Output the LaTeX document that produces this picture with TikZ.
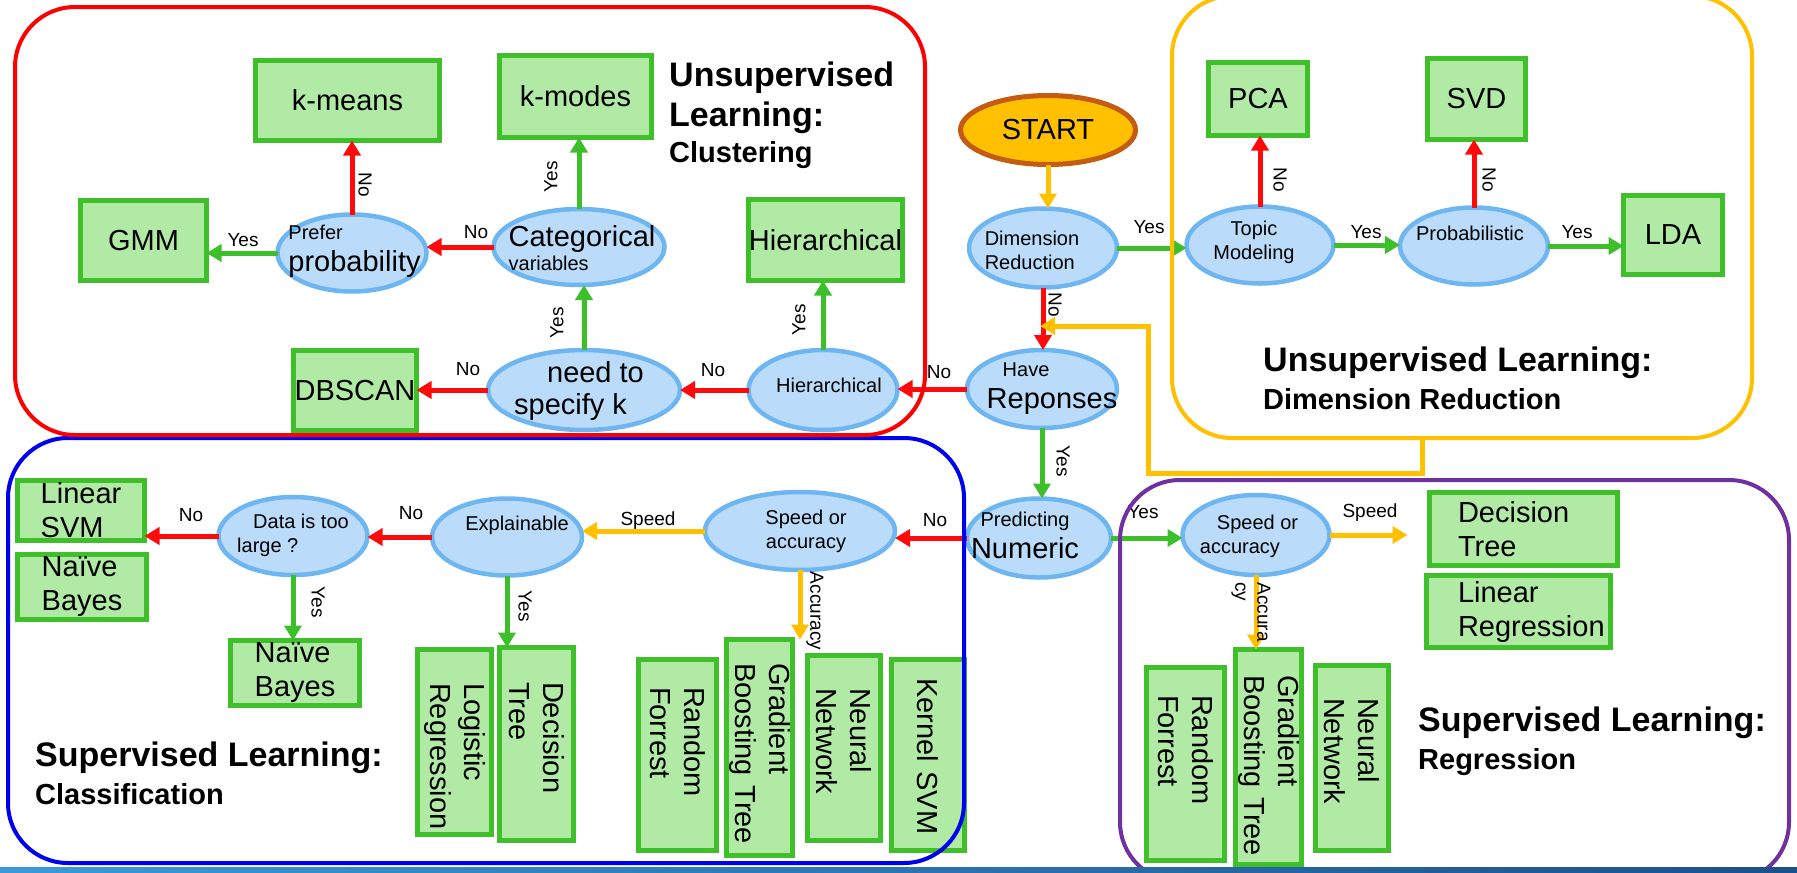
\documentclass[tikz,border=0pt]{standalone}
\usepackage{fontspec}
\setmainfont{Liberation Sans}
\usetikzlibrary{shapes.geometric,arrows.meta}

\definecolor{boxfill}{HTML}{B0EAA4}
\definecolor{boxline}{HTML}{3FBF2A}
\definecolor{ellfill}{HTML}{BADCFA}
\definecolor{ellline}{HTML}{6DB6F2}
\definecolor{arrred}{HTML}{FF0A0A}
\definecolor{arrgreen}{HTML}{3DBE2B}
\definecolor{arrorange}{HTML}{FFC000}
\definecolor{frred}{HTML}{FF0000}
\definecolor{fryellow}{HTML}{FFC000}
\definecolor{frblue}{HTML}{0000F0}
\definecolor{frpurple}{HTML}{7030A0}
\definecolor{startfill}{HTML}{FFC000}
\definecolor{startline}{HTML}{C55A11}
\definecolor{bandleft}{HTML}{3A9AD8}
\definecolor{bandright}{HTML}{1D4F8A}

\newcommand\fsbox{\fontsize{29pt}{34pt}\selectfont}
\newcommand\fsbig{\fontsize{29pt}{32pt}\selectfont}
\newcommand\fsell{\fontsize{20pt}{24pt}\selectfont}
\newcommand\fslab{\fontsize{19pt}{22pt}\selectfont}
\newcommand\fstitle{\bfseries\fontsize{34pt}{40pt}\selectfont}
\newcommand\fssub{\bfseries\fontsize{29pt}{34pt}\selectfont}

\begin{document}
\begin{tikzpicture}[x=1pt,y=-1pt,
  gbox/.style={rectangle, draw=boxline, fill=boxfill, line width=5pt,
    inner sep=0pt, outer sep=0pt, font=\fsbox, align=center},
  rbox/.style={gbox, rotate=-90, align=left},
  ell/.style={ellipse, draw=ellline, fill=ellfill, line width=4.5pt,
    inner sep=0pt, outer sep=0pt},
  etxt/.style={inner sep=0pt, font=\fsell, align=center},
  lab/.style={inner sep=0pt, font=\fslab},
  tip/.style={-{Triangle[length=15pt,width=17pt]}},
  rarr/.style={draw=arrred, line width=5pt, tip},
  garr/.style={draw=arrgreen, line width=5pt, tip},
  oarr/.style={draw=arrorange, line width=5pt, tip},
  frame/.style={rectangle, rounded corners=60pt, line width=4pt,
    inner sep=0pt, outer sep=0pt},
  title/.style={anchor=base west, inner sep=0pt, font=\fstitle},
  subtitle/.style={anchor=base west, inner sep=0pt, font=\fssub}
]
\useasboundingbox (0,0) rectangle (1797,873);
\clip (0,0) rectangle (1797,873);

% ---------- clustering ----------
\node[gbox, minimum width=184pt, minimum height=80pt] (kmeans) at (347.5,100.5) {k-means};
\node[gbox, minimum width=152pt, minimum height=82pt] (kmodes) at (575.5,96.5) {k-modes};
\node[gbox, minimum width=126pt, minimum height=80pt] (gmm) at (143.5,240.5) {GMM};
\node[gbox, minimum width=152pt, minimum height=81pt] (hierbox) at (825.5,240) {Hierarchical};
\node[gbox, minimum width=123pt, minimum height=80pt] (dbscan) at (355,390.5) {DBSCAN};

\node[ell, minimum width=149pt, minimum height=77pt] (prob) at (352,253) {};
\node[etxt, align=left, font=\fsbig] (probt) at (354.5,251) {{\fsell Prefer}\\probability};
\node[ell, minimum width=171pt, minimum height=76pt] (cat) at (579,247) {};
\node[etxt, align=left] (catt) at (582,248) {{\fsbig Categorical}\\variables};
\node[ell, minimum width=192pt, minimum height=80pt] (need) at (584,390) {};
\node[etxt, align=left, font=\fsbig] (needt) at (579,391) {\hspace*{33pt}need to\\specify k};
\node[ell, minimum width=149pt, minimum height=80pt] (hier) at (823,390) {};
\node[etxt] (hiert) at (829,385) {Hierarchical};

% ---------- start and dimension reduction ----------
\node[ellipse, draw=startline, fill=startfill, line width=5pt, inner sep=0pt, outer sep=0pt,
  minimum width=175pt, minimum height=69pt, font=\fsbox] (start) at (1048,130) {START};
\node[ell, minimum width=148pt, minimum height=79pt] (dim) at (1043,248) {};
\node[etxt, align=left] (dimt) at (1032,250) {Dimension\\Reduction};
\node[ell, minimum width=150pt, minimum height=78pt] (have) at (1042,389) {};
\node[etxt, align=left, font=\fsbig] (havet) at (1052,389) {\hspace*{16pt}{\fsell Have}\\Reponses};
\node[ell, minimum width=147pt, minimum height=77pt] (topic) at (1260,245) {};
\node[etxt] (topict) at (1254,242) {Topic\\Modeling};
\node[ell, minimum width=148pt, minimum height=77pt] (probab) at (1474,246) {};
\node[etxt] (probabt) at (1470,233) {Probabilistic};
\node[gbox, minimum width=99pt, minimum height=73pt] (pca) at (1258,99) {PCA};
\node[gbox, minimum width=98pt, minimum height=81pt] (svd) at (1476.5,99) {SVD};
\node[gbox, minimum width=99pt, minimum height=79pt] (lda) at (1673,235) {LDA};

% ---------- classification ----------
\node[gbox, align=left, minimum width=127pt, minimum height=60pt] (linsvm) at (81,510.5) {Linear\\SVM};
\node[gbox, align=left, minimum width=129pt, minimum height=65pt] (nbleft) at (82,587) {Naïve\\Bayes};
\node[gbox, align=left, minimum width=129pt, minimum height=65pt] (nbmid) at (295,673) {Naïve\\Bayes};
% upright boxes whose text runs from the top edge down
\node[rbox, text width=118pt, minimum width=185pt, minimum height=74pt] (logreg) at (454.5,742) {Logistic\\Regression};
\node[rbox, text width=124pt, minimum width=193pt, minimum height=74pt] (dtcls) at (536.5,744) {Decision\\Tree};
\node[rbox, text width=136pt, minimum width=191pt, minimum height=78pt] (rfcls) at (677.5,755) {Random\\Forrest};
\node[rbox, text width=169pt, minimum width=216pt, minimum height=66pt] (gbtcls) at (759.5,747.5) {Gradient\\Boosting~Tree};
\node[rbox, text width=120pt, minimum width=185pt, minimum height=73pt] (nncls) at (844,748) {Neural\\Network};
\node[rbox, text width=154pt, minimum width=191pt, minimum height=73pt] (ksvm) at (928,755) {Kernel~SVM};

\node[ell, minimum width=149pt, minimum height=78pt] (data) at (293,536) {};
\node[etxt, align=left] (datat) at (293,535) {\hspace*{16pt}Data is too\\large ?};
\node[ell, minimum width=150pt, minimum height=77pt] (expl) at (507,537) {};
\node[etxt] (explt) at (517,525) {Explainable};
\node[ell, minimum width=190pt, minimum height=78pt] (soacls) at (800,531) {};
\node[etxt] (soaclst) at (806,531) {Speed or\\accuracy};
\node[ell, minimum width=144pt, minimum height=79pt] (num) at (1039,538) {};
\node[etxt, font=\fsbig] (numt) at (1025,535) {{\fsell Predicting}\\Numeric};

% ---------- regression ----------
\node[ell, minimum width=147pt, minimum height=80pt] (soareg) at (1256,535) {};
\node[etxt, align=left] (soaregt) at (1249,536) {\hspace*{17pt}Speed or\\accuracy};
\node[gbox, align=left, text width=131pt, minimum width=188pt, minimum height=73pt] (dtreg) at (1523.5,529) {Decision\\Tree};
\node[gbox, align=left, text width=121pt, minimum width=184pt, minimum height=72pt] (linreg) at (1518.5,611.5) {Linear\\Regression};
\node[rbox, text width=138pt, minimum width=193pt, minimum height=78pt] (rfreg) at (1185.5,764) {Random\\Forrest};
\node[rbox, text width=164pt, minimum width=215pt, minimum height=66pt] (gbtreg) at (1268.5,757) {Gradient\\Boosting~Tree};
\node[rbox, text width=120pt, minimum width=185pt, minimum height=73pt] (nnreg) at (1352,758) {Neural\\Network};

% ---------- connectors ----------
\draw[garr] (prob.west) -- (prob.west -| gmm.east);
\draw[rarr] (prob.north) -- (prob.north |- kmeans.south);
\draw[rarr] (cat.west) -- (cat.west -| prob.east);
\draw[garr] (cat.north) -- (cat.north |- kmodes.south);
\draw[garr] (need.north) -- (need.north |- cat.south);
\draw[rarr] (need.west) -- (need.west -| dbscan.east);
\draw[garr] (hier.north) -- (hier.north |- hierbox.south);
\draw[rarr] (hier.west) -- (hier.west -| need.east);
\draw[rarr] (have.west) -- (have.west -| hier.east);
\draw[oarr] (start.south) -- (start.south |- dim.north);
\draw[rarr] (dim.south) -- (dim.south |- have.north);
\draw[garr] (dim.east) -- (dim.east -| topic.west);
\draw[rarr] (topic.north) -- (topic.north |- pca.south);
\draw[garr] (topic.east) -- (topic.east -| probab.west);
\draw[rarr] (probab.north) -- (probab.north |- svd.south);
\draw[garr] (probab.east) -- (probab.east -| lda.west);
\draw[garr] (have.south) -- (have.south |- num.north);
\draw[rarr] (num.west) -- (num.west -| soacls.east);
\draw[oarr] (soacls.west) -- (soacls.west -| expl.east);
\draw[rarr] (expl.west) -- (expl.west -| data.east);
\draw[rarr] (data.west) -- (data.west -| linsvm.east);
\draw[garr] (data.south) -- (data.south |- nbmid.north);
\draw[garr] (expl.south) -- (expl.south |- dtcls.west);
\draw[oarr] (soacls.south) -- (soacls.south |- gbtcls.west);
\draw[garr] (num.east) -- (num.east -| soareg.west);
\draw[oarr, shorten >=22pt] (soareg.east) -- (soareg.east -| dtreg.west);
\draw[oarr] (soareg.south) -- (soareg.south |- gbtreg.west);

% return path from the dimension-reduction group
\coordinate (fbtop) at (1422,438);
\coordinate (fbend) at (1040,326);
\draw[oarr] (fbtop) -- (1422,473) -- (1148,473) -- (1148,326) -- (fbend);

% ---------- connector labels ----------
\node[lab] (l1) at (243,240) {Yes};
\node[lab, rotate=-90] (l2) at (365,185) {No};
\node[lab] (l3) at (476,232) {No};
\node[lab, rotate=90] (l4) at (551,177) {Yes};
\node[lab, rotate=90] (l5) at (557,323) {Yes};
\node[lab] (l6) at (468,369) {No};
\node[lab, rotate=90] (l7) at (799,320) {Yes};
\node[lab] (l8) at (713,370) {No};
\node[lab] (l9) at (939,372) {No};
\node[lab, rotate=-90] (l10) at (1055,305) {No};
\node[lab] (l11) at (1149,227) {Yes};
\node[lab, rotate=-90] (l12) at (1280,180) {No};
\node[lab] (l13) at (1366,232) {Yes};
\node[lab, rotate=-90] (l14) at (1489,180) {No};
\node[lab] (l15) at (1577,232) {Yes};
\node[lab] (l16) at (191,515) {No};
\node[lab] (l17) at (411,513) {No};
\node[lab, rotate=-90] (l18) at (318,602) {Yes};
\node[lab, rotate=-90] (l19) at (525,606) {Yes};
\node[lab] (l20) at (648,521) {Speed};
\node[lab] (l21) at (935,520) {No};
\node[lab, rotate=-90] (l22) at (815,611) {Accuracy};
\node[lab, rotate=-90] (l23) at (1063,461) {Yes};
\node[lab] (l24) at (1143,512) {Yes};
\node[lab] (l25) at (1370,513) {Speed};
\node[lab, rotate=-90, align=left] (l26) at (1251,612) {Accura\\cy};

% ---------- group titles ----------
\node[title] (tc1) at (669,86) {Unsupervised};
\node[title] (tc2) at (669,126) {Learning:};
\node[subtitle] (tc3) at (669,162) {Clustering};
\node[title] (td1) at (1263,371) {Unsupervised Learning:};
\node[subtitle] (td2) at (1263,409) {Dimension Reduction};
\node[title] (ts1) at (35,766) {Supervised Learning:};
\node[subtitle] (ts2) at (35,804) {Classification};
\node[title] (tr1) at (1418,731) {Supervised Learning:};
\node[subtitle] (tr2) at (1418,769) {Regression};

% ---------- group frames ----------
\node[frame, draw=frblue, minimum width=956pt, minimum height=425pt] (clsframe) at (486,650.5) {};
\node[frame, draw=frred, minimum width=910pt, minimum height=428pt] (clusframe) at (470,221) {};
\node[frame, draw=fryellow, minimum width=580pt, minimum height=442pt] (drframe) at (1462,217) {};
\node[frame, draw=frpurple, minimum width=669pt, minimum height=402pt] (regframe) at (1454.5,681) {};

% bottom band
\shade[left color=bandleft, right color=bandright] (0,867) rectangle (1797,873);
\end{tikzpicture}
\end{document}
